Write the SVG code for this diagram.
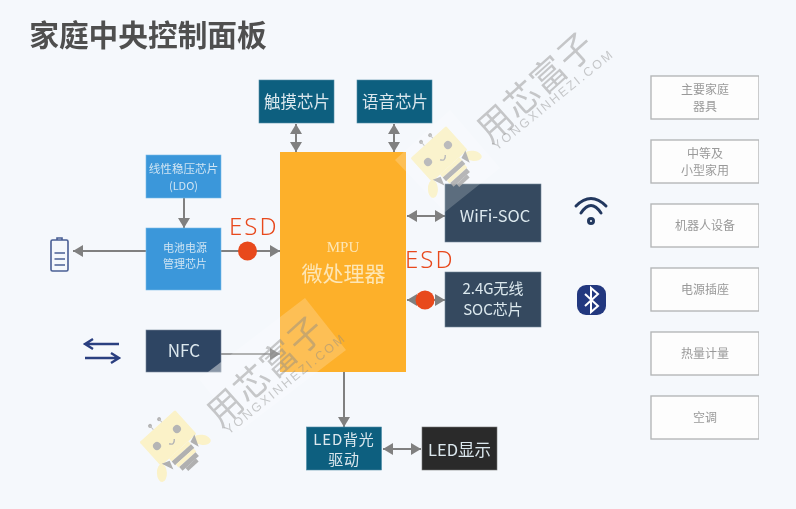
<svg xmlns="http://www.w3.org/2000/svg" xmlns:xlink="http://www.w3.org/1999/xlink" width="796" height="509" viewBox="0 0 796 509">
<style>
text{font-family:"Noto Sans CJK SC","Noto Sans",sans-serif;text-anchor:middle}
.lbl{font-size:16.5px;fill:#dce8ee}
.small{font-size:11px;fill:#cfe4f3}
.teal{fill:#0e5f7f;stroke:#4d8ca5;stroke-width:.6}
.blue{fill:#3a97da;stroke:#7cbbe6;stroke-width:.6}
.slate{fill:#34495e;stroke:#76879a;stroke-width:.6}
.dev{fill:#fdfdfd;stroke:#b5b7b8;stroke-width:1.4}
.devt{font-size:12px;fill:#999}
.c{stroke:#808080;stroke-width:2;fill:none}
.one{marker-end:url(#ah)}
.two{marker-start:url(#ah);marker-end:url(#ah)}
.esd{font-family:"Noto Sans","Liberation Sans",sans-serif;font-size:24px;font-weight:300;fill:#e8481c;letter-spacing:2px;text-anchor:start}
.wmt{font-size:35px;fill:#8a8a8a;fill-opacity:.45;letter-spacing:1px}
.wms{font-family:"Liberation Sans",sans-serif;font-size:12.5px;fill:#8a8a8a;fill-opacity:.45;letter-spacing:2.2px}
</style>
<defs>
<marker id="ah" markerUnits="userSpaceOnUse" markerWidth="12" markerHeight="14" refX="10" refY="7" orient="auto-start-reverse"><path d="M0 1L10 7L0 13Z" fill="#808080"/></marker>
<filter id="soft" x="0" y="0" width="100%" height="100%"><feGaussianBlur stdDeviation="0.4"/></filter>
<g id="bee" transform="translate(168 438) rotate(-42)">
<rect x="-24" y="-16" width="48" height="32" rx="1.500" fill="#fbf2c8"/>
<circle cx="-13.500" cy="-1.400" r="4" fill="#b5b5b5"/><circle cx="12.700" cy="-.7" r="4" fill="#b5b5b5"/>
<path d="M-3 5Q0 10 4 5" fill="none" stroke="#b5b5b5" stroke-width="1.400"/>
<circle cx="-5.300" cy="-21" r="2" fill="#b5b5b5"/><circle cx="6" cy="-20" r="2" fill="#b5b5b5"/>
<path d="M-5.300 -21V-16M6 -20V-16" stroke="#c5c5c5" stroke-width="1"/>
<ellipse cx="24" cy="24" rx="5" ry="9" fill="#fbf2c8" transform="rotate(-40 24 24)"/>
<ellipse cx="-28" cy="22" rx="5" ry="9" fill="#fbf2c8" transform="rotate(40 -28 22)"/>
<rect x="-13" y="16" width="26" height="4" fill="#fbf2c8"/>
<rect x="-13" y="20" width="26" height="5" fill="#b0b0b0"/>
<rect x="-12" y="25" width="24" height="4" fill="#fbf2c8"/>
<rect x="-11" y="29" width="22" height="5" fill="#b0b0b0"/>
<path d="M-7 34H7V38H-7Z" fill="#b0b0b0"/>
<path d="M14 18L22 15L17 27ZM-14 18L-22 15L-17 27Z" fill="#b0b0b0"/>
</g>
</defs>
<rect width="796" height="509" fill="#f5f8fc"/>
<g filter="url(#soft)">
<text x="148" y="46" style="font-size:29.7px;font-weight:700;fill:#505050">家庭中央控制面板</text>
<g id="connectors">
<path class="c two" d="M296 124V152"/>
<path class="c two" d="M394 124V152"/>
<path class="c one" d="M184 198V228"/>
<path class="c one" d="M221 251H73"/>
<path class="c one" d="M221 251H280"/>
<path class="c two" d="M407 216H445"/>
<path class="c two" d="M407 300H445"/>
<path class="c one" d="M221 354H280" style="stroke-width:1.400"/>
<path class="c one" d="M344 372V427"/>
<path class="c two" d="M383 449H421"/>
</g>
<g id="touch"><rect class="teal" x="259" y="80" width="75" height="43"/><text class="lbl" x="297" y="108">触摸芯片</text></g>
<g id="voice"><rect class="teal" x="357" y="80" width="75" height="43"/><text class="lbl" x="395" y="108">语音芯片</text></g>
<g id="ldo"><rect class="blue" x="146" y="155" width="75" height="43"/><text class="small" x="183.500" y="173" style="font-size:11.600px">线性稳压芯片</text><text class="small" x="183.500" y="190">(LDO)</text></g>
<g id="pmic"><rect class="blue" x="146" y="228" width="75" height="62"/><text class="small" x="185" y="252">电池电源</text><text class="small" x="185" y="268">管理芯片</text></g>
<g id="mpu"><rect x="280" y="152" width="126" height="220" fill="#fdb02b"/><text x="343" y="252" style="font-family:'Liberation Serif','Noto Sans CJK SC',serif;font-size:15px;fill:#fde6b5">MPU</text><text x="343.500" y="281" style="font-size:21px;fill:#fde6b5">微处理器</text></g>
<g id="wifi-soc"><rect class="slate" x="445" y="184" width="96" height="58"/><text class="lbl" x="495" y="222">WiFi-SOC</text></g>
<g id="soc24"><rect class="slate" x="445" y="272" width="96" height="55"/><text class="lbl" x="493" y="294" style="font-size:15px">2.4G无线</text><text class="lbl" x="493" y="315" style="font-size:15px">SOC芯片</text></g>
<g id="nfc"><rect class="slate" x="146" y="330" width="75" height="42" style="fill:#2f4563"/><text class="lbl" x="184" y="357" style="font-size:17px">NFC</text></g>
<g id="led-drv"><rect class="teal" x="306.500" y="427" width="75" height="43"/><text class="lbl" x="344" y="445" style="font-size:15px;letter-spacing:.8px">LED背光</text><text class="lbl" x="344" y="465" style="font-size:15px;letter-spacing:.8px">驱动</text></g>
<g id="led-disp"><rect x="422" y="427" width="75" height="43" fill="#2b2b2b" stroke="#777" stroke-width=".6"/><text class="lbl" x="459.500" y="456">LED显示</text></g>
<g id="dev1"><rect class="dev" x="651" y="76" width="108" height="43"/><text class="devt" x="705" y="94">主要家庭</text><text class="devt" x="705" y="111">器具</text></g>
<g id="dev2"><rect class="dev" x="651" y="140" width="108" height="43"/><text class="devt" x="705" y="158">中等及</text><text class="devt" x="705" y="175">小型家用</text></g>
<g id="dev3"><rect class="dev" x="651" y="204" width="108" height="43"/><text class="devt" x="705" y="230">机器人设备</text></g>
<g id="dev4"><rect class="dev" x="651" y="268" width="108" height="43"/><text class="devt" x="705" y="294">电源插座</text></g>
<g id="dev5"><rect class="dev" x="651" y="332" width="108" height="43"/><text class="devt" x="705" y="358">热量计量</text></g>
<g id="dev6"><rect class="dev" x="651" y="396" width="108" height="43"/><text class="devt" x="705" y="422">空调</text></g>
<g id="battery" fill="none" stroke="#4a5f95" stroke-width="1.600"><rect x="51" y="240" width="17" height="31" rx="1.500"/><path d="M57 240V238H62V240M54.500 253H65M54.500 259H65M54.500 265H65"/></g>
<g id="wifi-icon" fill="none" stroke="#24395f" stroke-width="3" stroke-linecap="round"><path d="M576 206Q591 191 606 206"/><path d="M581 213Q591 198 601 213"/><circle cx="591" cy="221" r="2.500"/></g>
<g id="bt-icon"><rect x="577" y="285" width="29" height="30" rx="9" fill="#24397f"/><path d="M585 294L598 306L591 312V288L598 294L585 306" fill="none" stroke="#fff" stroke-width="2"/></g>
<g id="nfc-icon" fill="none" stroke="#2c3f80" stroke-width="2.400"><path d="M119 344H86M93 339L85 344L93 349M85 358H118M111 353L119 358L111 363"/></g>
<g id="esd1"><circle cx="247.500" cy="251" r="9.500" fill="#e8481c"/><text class="esd" x="229" y="235">ESD</text></g>
<g id="esd2"><circle cx="425" cy="300" r="9.500" fill="#e8481c"/><text class="esd" x="405" y="268">ESD</text></g>
<g id="watermark">
<path d="M305 298L346 350L240 431L199 379Z" fill="#fff" fill-opacity=".2"/>
<path d="M395 160L445 212L500 168L450 110Z" fill="#fff" fill-opacity=".2"/>
<path d="M221 372H208L221 362Z" fill="#fff" fill-opacity=".3"/>
<text class="wmt" transform="translate(274 380) rotate(-42)" x="0" y="0">用芯富子</text>
<text class="wmt" transform="translate(544 96) rotate(-42)" x="0" y="0">用芯富子</text>
<text class="wms" transform="translate(288 387) rotate(-39)" x="0" y="0">YONGXINHEZI.COM</text>
<text class="wms" transform="translate(556 103) rotate(-39)" x="0" y="0">YONGXINHEZI.COM</text>
<use xlink:href="#bee"/>
<use xlink:href="#bee" transform="translate(271 -284)" opacity=".9"/>
</g>
</g>
</svg>
